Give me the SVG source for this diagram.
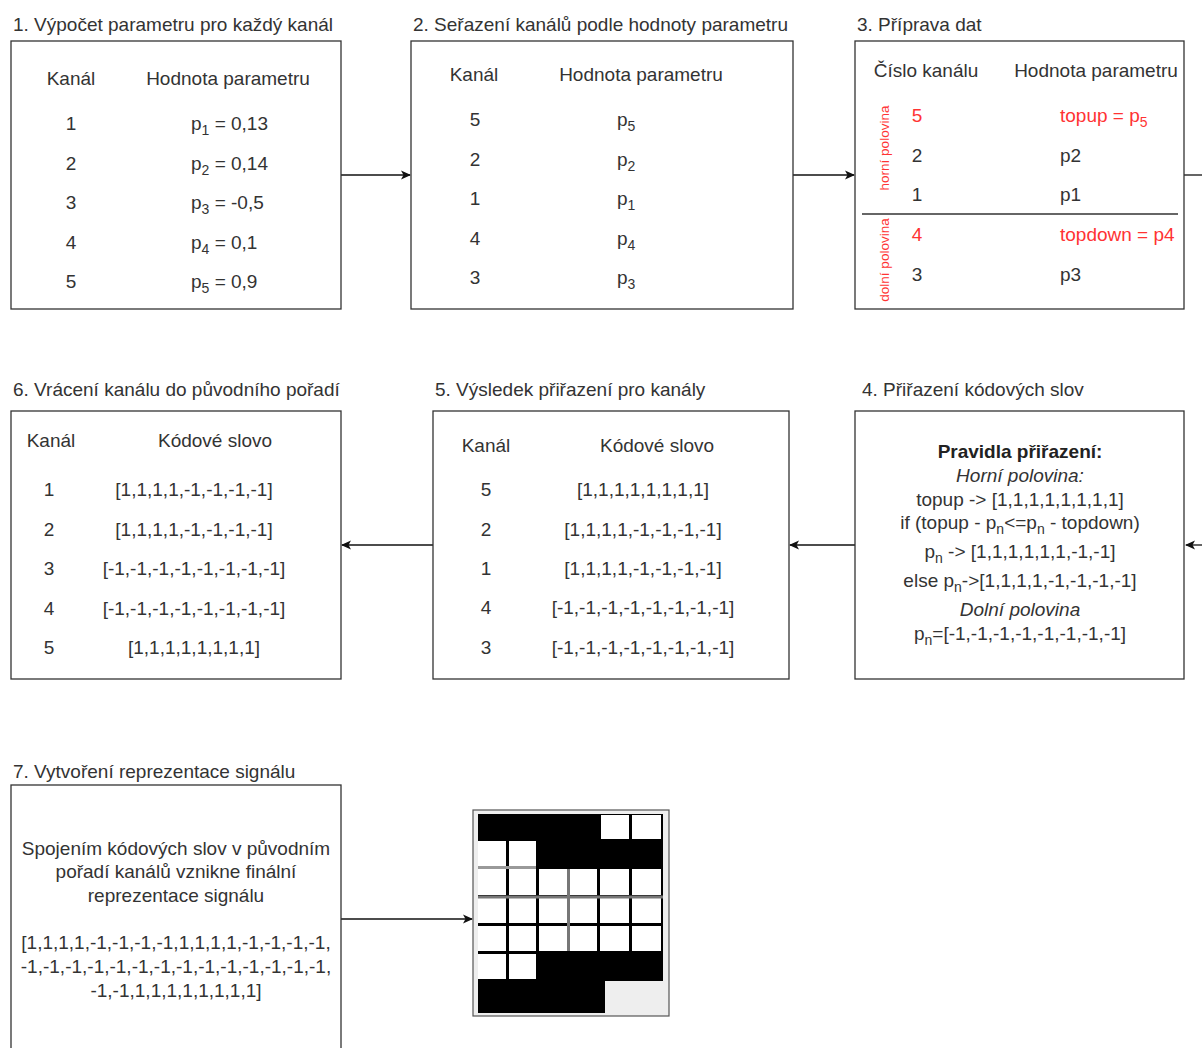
<svg xmlns="http://www.w3.org/2000/svg" width="1202" height="1048" viewBox="0 0 1202 1048">
<style>
text{font-family:"Liberation Sans",Arial,sans-serif;font-size:19px;fill:#333;}
.t{text-anchor:start;}
.c{text-anchor:middle;}
.red{fill:#ff3333;}
.box{fill:#fff;stroke:#333;stroke-width:1.3;}
.con{fill:none;stroke:#111;stroke-width:1.3;}
.sub{font-size:14px;}
.vert{font-size:13.5px;fill:#ff3333;text-anchor:middle;}
</style>
<defs>
<marker id="arr" viewBox="0 0 10 10" refX="9" refY="5" markerWidth="10" markerHeight="10" markerUnits="userSpaceOnUse" orient="auto">
<path d="M0,0.5 L10,5 L0,9.5 L2.5,5 z" fill="#111"/>
</marker>
</defs>
<rect width="1202" height="1048" fill="#fff"/>

<g id="connectors">
<line class="con" x1="341" y1="175" x2="410" y2="175" marker-end="url(#arr)"/>
<line class="con" x1="793" y1="175" x2="854" y2="175" marker-end="url(#arr)"/>
<line class="con" x1="1184" y1="175" x2="1202" y2="175"/>
<line class="con" x1="1202" y1="545" x2="1186" y2="545" marker-end="url(#arr)"/>
<line class="con" x1="855" y1="545" x2="790" y2="545" marker-end="url(#arr)"/>
<line class="con" x1="433" y1="545" x2="342" y2="545" marker-end="url(#arr)"/>
<line class="con" x1="341" y1="919" x2="472" y2="919" marker-end="url(#arr)"/>
</g>

<g id="node1">
<text class="t" x="13" y="31">1. Výpočet parametru pro každý kanál</text>
<rect class="box" x="11" y="41" width="330" height="268"/>
<text class="c" x="71" y="85">Kanál</text>
<text class="c" x="228" y="85">Hodnota parametru</text>
<text class="c" x="71" y="130">1</text>
<text class="c" x="71" y="170">2</text>
<text class="c" x="71" y="209">3</text>
<text class="c" x="71" y="249">4</text>
<text class="c" x="71" y="288">5</text>
<text class="t" x="191" y="130">p<tspan class="sub" dy="5">1</tspan><tspan dy="-5"> = 0,13</tspan></text>
<text class="t" x="191" y="170">p<tspan class="sub" dy="5">2</tspan><tspan dy="-5"> = 0,14</tspan></text>
<text class="t" x="191" y="209">p<tspan class="sub" dy="5">3</tspan><tspan dy="-5"> = -0,5</tspan></text>
<text class="t" x="191" y="249">p<tspan class="sub" dy="5">4</tspan><tspan dy="-5"> = 0,1</tspan></text>
<text class="t" x="191" y="288">p<tspan class="sub" dy="5">5</tspan><tspan dy="-5"> = 0,9</tspan></text>
</g>

<g id="node2">
<text class="t" x="413" y="31">2. Seřazení kanálů podle hodnoty parametru</text>
<rect class="box" x="411" y="41" width="382" height="268"/>
<text class="c" x="474" y="81">Kanál</text>
<text class="c" x="641" y="81">Hodnota parametru</text>
<text class="c" x="475" y="126">5</text>
<text class="c" x="475" y="166">2</text>
<text class="c" x="475" y="205">1</text>
<text class="c" x="475" y="245">4</text>
<text class="c" x="475" y="284">3</text>
<text class="t" x="617" y="126">p<tspan class="sub" dy="5">5</tspan></text>
<text class="t" x="617" y="166">p<tspan class="sub" dy="5">2</tspan></text>
<text class="t" x="617" y="205">p<tspan class="sub" dy="5">1</tspan></text>
<text class="t" x="617" y="245">p<tspan class="sub" dy="5">4</tspan></text>
<text class="t" x="617" y="284">p<tspan class="sub" dy="5">3</tspan></text>
</g>

<g id="node3">
<text class="t" x="857" y="31">3. Příprava dat</text>
<rect class="box" x="855" y="41" width="329" height="268"/>
<text class="c" x="926" y="77">Číslo kanálu</text>
<text class="c" x="1096" y="77">Hodnota parametru</text>
<text class="c red" x="917" y="122">5</text>
<text class="c" x="917" y="162">2</text>
<text class="c" x="917" y="201">1</text>
<line x1="862" y1="214" x2="1178" y2="214" stroke="#333" stroke-width="1.3"/>
<text class="c red" x="917" y="241">4</text>
<text class="c" x="917" y="281">3</text>
<text class="t red" x="1060" y="122">topup = p<tspan class="sub" dy="5">5</tspan></text>
<text class="t" x="1060" y="162">p2</text>
<text class="t" x="1060" y="201">p1</text>
<text class="t red" x="1060" y="241">topdown = p4</text>
<text class="t" x="1060" y="281">p3</text>
<text class="vert" transform="translate(889,148) rotate(-90)">horní polovina</text>
<text class="vert" transform="translate(889,260) rotate(-90)">dolní polovina</text>
</g>

<g id="node4">
<text class="t" x="862" y="396">4. Přiřazení kódových slov</text>
<rect class="box" x="855" y="411" width="329" height="268"/>
<text class="c" x="1020" y="458" font-weight="bold" style="fill:#222">Pravidla přiřazení:</text>
<text class="c" x="1020" y="482" font-style="italic">Horní polovina:</text>
<text class="c" x="1020" y="506">topup -&gt; [1,1,1,1,1,1,1,1]</text>
<text class="c" x="1020" y="529">if (topup - p<tspan class="sub" dy="5">n</tspan><tspan dy="-5">&lt;=p</tspan><tspan class="sub" dy="5">n</tspan><tspan dy="-5"> - topdown)</tspan></text>
<text class="c" x="1020" y="558">p<tspan class="sub" dy="5">n</tspan><tspan dy="-5"> -&gt; [1,1,1,1,1,1,-1,-1]</tspan></text>
<text class="c" x="1020" y="587">else p<tspan class="sub" dy="5">n</tspan><tspan dy="-5">-&gt;[1,1,1,1,-1,-1,-1,-1]</tspan></text>
<text class="c" x="1020" y="616" font-style="italic">Dolní polovina</text>
<text class="c" x="1020" y="640">p<tspan class="sub" dy="5">n</tspan><tspan dy="-5">=[-1,-1,-1,-1,-1,-1,-1,-1]</tspan></text>
</g>

<g id="node5">
<text class="t" x="435" y="396">5. Výsledek přiřazení pro kanály</text>
<rect class="box" x="433" y="411" width="356" height="268"/>
<text class="c" x="486" y="452">Kanál</text>
<text class="c" x="657" y="452">Kódové slovo</text>
<text class="c" x="486" y="496">5</text>
<text class="c" x="486" y="536">2</text>
<text class="c" x="486" y="575">1</text>
<text class="c" x="486" y="614">4</text>
<text class="c" x="486" y="654">3</text>
<text class="c" x="643" y="496">[1,1,1,1,1,1,1,1]</text>
<text class="c" x="643" y="536">[1,1,1,1,-1,-1,-1,-1]</text>
<text class="c" x="643" y="575">[1,1,1,1,-1,-1,-1,-1]</text>
<text class="c" x="643" y="614">[-1,-1,-1,-1,-1,-1,-1,-1]</text>
<text class="c" x="643" y="654">[-1,-1,-1,-1,-1,-1,-1,-1]</text>
</g>

<g id="node6">
<text class="t" x="13" y="396">6. Vrácení kanálu do původního pořadí</text>
<rect class="box" x="11" y="411" width="330" height="268"/>
<text class="c" x="51" y="447">Kanál</text>
<text class="c" x="215" y="447">Kódové slovo</text>
<text class="c" x="49" y="496">1</text>
<text class="c" x="49" y="536">2</text>
<text class="c" x="49" y="575">3</text>
<text class="c" x="49" y="615">4</text>
<text class="c" x="49" y="654">5</text>
<text class="c" x="194" y="496">[1,1,1,1,-1,-1,-1,-1]</text>
<text class="c" x="194" y="536">[1,1,1,1,-1,-1,-1,-1]</text>
<text class="c" x="194" y="575">[-1,-1,-1,-1,-1,-1,-1,-1]</text>
<text class="c" x="194" y="615">[-1,-1,-1,-1,-1,-1,-1,-1]</text>
<text class="c" x="194" y="654">[1,1,1,1,1,1,1,1]</text>
</g>

<g id="node7">
<text class="t" x="13" y="778">7. Vytvoření reprezentace signálu</text>
<rect class="box" x="11" y="785" width="330" height="280"/>
<text class="c" x="176" y="855">Spojením kódových slov v původním</text>
<text class="c" x="176" y="878">pořadí kanálů vznikne finální</text>
<text class="c" x="176" y="902">reprezentace signálu</text>
<text class="c" x="176" y="949">[1,1,1,1,-1,-1,-1,-1,1,1,1,1,-1,-1,-1,-1,</text>
<text class="c" x="176" y="973">-1,-1,-1,-1,-1,-1,-1,-1,-1,-1,-1,-1,-1,-1,</text>
<text class="c" x="176" y="997">-1,-1,1,1,1,1,1,1,1,1]</text>
</g>

<g id="signal-image">
<rect x="473" y="810" width="196" height="206" fill="#eeeeee" stroke="#555" stroke-width="1.2"/>
<rect x="478" y="814" width="185" height="167" fill="#000"/>
<rect x="478" y="980" width="127" height="33" fill="#000"/>
<g fill="#fff">
<rect x="601" y="815" width="28" height="24"/>
<rect x="632" y="815" width="29" height="24"/>
<rect x="478" y="841" width="28" height="25"/>
<rect x="509" y="841" width="27" height="25"/>
<rect x="478" y="869" width="28" height="26"/>
<rect x="509" y="869" width="27" height="26"/>
<rect x="539" y="869" width="28" height="26"/>
<rect x="570" y="869" width="27" height="26"/>
<rect x="600" y="869" width="29" height="26"/>
<rect x="632" y="869" width="29" height="26"/>
<rect x="478" y="898" width="28" height="25"/>
<rect x="509" y="898" width="27" height="25"/>
<rect x="539" y="898" width="28" height="25"/>
<rect x="570" y="898" width="27" height="25"/>
<rect x="600" y="898" width="29" height="25"/>
<rect x="632" y="898" width="29" height="25"/>
<rect x="478" y="926" width="28" height="25"/>
<rect x="509" y="926" width="27" height="25"/>
<rect x="539" y="926" width="28" height="25"/>
<rect x="570" y="926" width="27" height="25"/>
<rect x="600" y="926" width="29" height="25"/>
<rect x="632" y="926" width="29" height="25"/>
<rect x="478" y="954" width="28" height="25"/>
<rect x="509" y="954" width="27" height="25"/>
</g>
<rect x="478" y="895.5" width="185" height="3" fill="#777"/>
<rect x="478" y="866" width="58" height="3" fill="#999"/>
<rect x="567" y="869" width="3" height="82" fill="#777"/>
</g>
</svg>
